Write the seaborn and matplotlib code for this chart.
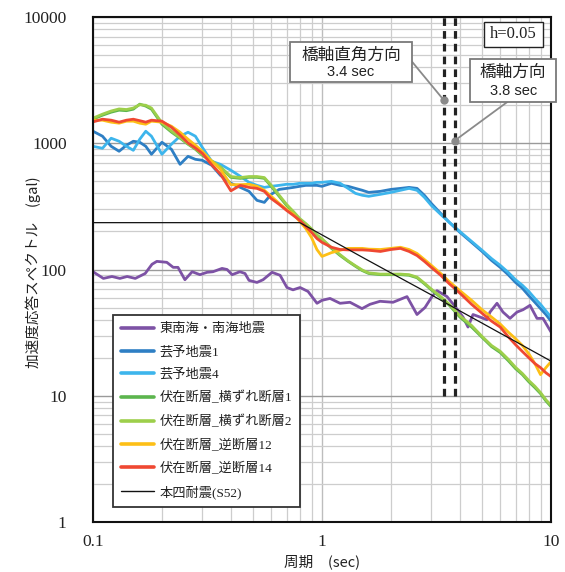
import matplotlib
matplotlib.use("Agg")
import matplotlib.pyplot as plt
import numpy as np
import pandas as pd
import seaborn as sns
from matplotlib.patches import Rectangle
from matplotlib.lines import Line2D
from matplotlib.ticker import LogLocator, FixedLocator, FixedFormatter, NullFormatter

sns.set_style("white")
plt.rcParams['font.family'] = ['Noto Sans CJK JP', 'DejaVu Sans']

# ---- periods (sec) shared by the recorded-wave spectra ----
periods = [0.10, 0.11, 0.12, 0.13, 0.14, 0.15, 0.16, 0.17, 0.18, 0.20,
           0.22, 0.24, 0.26, 0.28, 0.30, 0.33, 0.36, 0.40, 0.44, 0.48,
           0.52, 0.56, 0.60, 0.65, 0.70, 0.75, 0.80, 0.85, 0.90, 0.95,
           1.0, 1.1, 1.2, 1.3, 1.4, 1.5, 1.6, 1.8, 2.0, 2.2,
           2.4, 2.6, 2.8, 3.0, 3.3, 3.6, 4.0, 4.5, 5.0, 5.5,
           6.0, 6.5, 7.0, 7.5, 8.0, 8.5, 9.0, 9.5, 10.0]

# ---- acceleration response spectra (gal), h = 0.05 ----
geiyo1 = [1245, 1137, 946, 864, 964, 1037, 1018, 946, 818, 1018,
          896, 681, 788, 746, 733, 669, 557, 482, 447, 416,
          353, 340, 394, 431, 439, 447, 456, 464, 464, 464,
          456, 482, 464, 456, 439, 424, 408, 416, 431, 439,
          447, 439, 387, 334, 278, 236, 197, 164, 139, 118,
          104, 91, 79, 71, 62, 55, 49, 44, 39]
geiyo4 = [946, 912, 1096, 1037, 946, 879, 1076, 1245, 1137, 818,
          982, 1137, 1222, 1137, 929, 719, 681, 611, 547, 490,
          464, 447, 456, 464, 473, 473, 482, 482, 482, 490,
          490, 499, 482, 439, 401, 387, 380, 394, 408, 424,
          439, 424, 373, 322, 273, 236, 200, 167, 142, 122,
          108, 95, 83, 75, 67, 59, 53, 47, 42]
strike1 = [1550, 1668, 1762, 1828, 1811, 1862, 2040, 1968, 1862, 1415,
           1226, 1096, 982, 896, 803, 719, 645, 537, 527, 537,
           537, 527, 456, 380, 322, 283, 249, 228, 208, 186,
           173, 147, 129, 116, 106, 98, 93, 91, 91, 91,
           90, 86, 77, 69, 60, 52, 42, 35, 29, 24.5,
           22, 19, 16.4, 14.7, 12.9, 11.6, 10.4, 9.1, 8.2]
strike2 = [1580, 1700, 1800, 1870, 1850, 1900, 2020, 2000, 1900, 1450,
           1250, 1110, 990, 905, 815, 725, 650, 545, 535, 545,
           545, 535, 465, 388, 328, 288, 253, 231, 210, 188,
           175, 149, 131, 117, 107, 99, 94, 92, 92, 92,
           91, 87, 78, 70, 61, 53, 43, 36, 29.5, 25,
           22.5, 19.5, 16.8, 15, 13.2, 11.9, 10.6, 9.3, 8.4]
reverse12 = [1523, 1523, 1469, 1442, 1496, 1496, 1442, 1415, 1496, 1469,
             1364, 1222, 1076, 964, 864, 719, 622, 470, 470, 473,
             456, 424, 380, 334, 299, 274, 240, 211, 179, 144,
             127, 136, 142, 147, 147, 147, 145, 144, 147, 150,
             144, 134, 120, 108, 93, 80, 68, 57, 48, 42,
             37, 32, 28.3, 25, 21.5, 18, 14.7, 16.7, 18.6]
reverse14 = [1476, 1550, 1523, 1469, 1523, 1550, 1509, 1469, 1523, 1496,
             1340, 1161, 1005, 916, 833, 674, 571, 420, 464, 447,
             439, 416, 365, 328, 294, 268, 245, 219, 197, 176,
             164, 150, 144, 143, 143, 143, 142, 139, 144, 147,
             139, 129, 116, 104, 90, 77, 65, 53, 45, 39,
             35, 29.4, 25.4, 22.4, 20, 18, 16.7, 15.2, 14.2]

# Tonankai-Nankai earthquake (own period sampling)
periods_nankai = [0.100, 0.111, 0.121, 0.131, 0.141, 0.153, 0.169, 0.181, 0.190, 0.210,
                  0.224, 0.235, 0.252, 0.271, 0.293, 0.315, 0.334, 0.366, 0.385, 0.405,
                  0.438, 0.461, 0.480, 0.520, 0.553, 0.605, 0.656, 0.703, 0.747, 0.802,
                  0.869, 0.951, 1.00, 1.084, 1.199, 1.325, 1.495, 1.620, 1.792, 2.042,
                  2.351, 2.599, 2.817, 3.022, 3.178, 3.515, 3.809, 4.128, 4.341, 4.565,
                  4.898, 5.254, 5.415, 5.810, 6.171, 6.622, 7.105, 7.546, 8.095, 8.686,
                  9.226, 10.0]
nankai = [96, 85, 88, 85, 88, 85, 93, 110, 116, 114,
          104, 104, 83, 96, 91, 95, 96, 102, 100, 91,
          96, 93, 82, 79, 83, 95, 90, 72, 69, 72,
          67, 54, 57, 59, 54, 55, 49, 53, 56, 55,
          61, 44, 50, 61, 68, 61, 51, 42, 35, 44,
          42, 40, 46, 54, 46, 41, 46, 48, 52, 41,
          41, 32]

# Honshu-Shikoku bridge seismic design spectrum (S52)
periods_s52 = [0.1, 0.8, 1.0, 1.5, 2.0, 3.0, 4.0, 5.0, 6.0, 7.0, 8.0, 9.0, 10.0]
honshi_s52 = [235, 235, 188, 125, 94, 63, 47, 37.6, 31.3, 26.9, 23.5, 20.9, 18.8]

labels = ["東南海・南海地震", "芸予地震1", "芸予地震4",
          "伏在断層_横ずれ断層1", "伏在断層_横ずれ断層2",
          "伏在断層_逆断層12", "伏在断層_逆断層14", "本四耐震(S52)"]
colors = ["#7d52a5", "#2e7fc4", "#3db5ec", "#5cb54e", "#9dcf4b",
          "#fdbf16", "#ef4832", "#111111"]

wave_data = [(periods_nankai, nankai), (periods, geiyo1), (periods, geiyo4),
             (periods, strike1), (periods, strike2), (periods, reverse12),
             (periods, reverse14)]
df = pd.concat([pd.DataFrame({"period": T, "accel": S, "wave": name})
                for name, (T, S) in zip(labels[:7], wave_data)], ignore_index=True)
df_s52 = pd.DataFrame({"period": periods_s52, "accel": honshi_s52, "wave": labels[7]})

fig = plt.figure(figsize=(5.65, 5.72), dpi=100)
ax = fig.add_axes([93 / 565, 1 - 522 / 572, 458 / 565, 505 / 572])

sns.lineplot(data=df, x="period", y="accel", hue="wave", hue_order=labels[:7],
             palette=colors[:7], sort=False, estimator=None, linewidth=2.0,
             legend=False, ax=ax)
sns.lineplot(data=df_s52, x="period", y="accel", color=colors[7], sort=False,
             estimator=None, linewidth=0.9, legend=False, ax=ax)

ax.set_xscale("log")
ax.set_yscale("log")
ax.set_xlim(0.1, 10)
ax.set_ylim(1, 10000)

# grid
ax.xaxis.set_minor_locator(LogLocator(base=10, subs=np.arange(2, 10)))
ax.yaxis.set_minor_locator(LogLocator(base=10, subs=np.arange(2, 10)))
ax.xaxis.set_minor_formatter(NullFormatter())
ax.yaxis.set_minor_formatter(NullFormatter())
ax.grid(which="minor", color="#cdcdcd", linewidth=0.9)
ax.grid(which="major", axis="x", color="#bdbdbd", linewidth=1.0)
ax.grid(which="major", axis="y", color="#9a9a9a", linewidth=1.0)
ax.set_axisbelow(True)

ax.xaxis.set_major_locator(FixedLocator([0.1, 1, 10]))
ax.xaxis.set_major_formatter(FixedFormatter(["0.1", "1", "10"]))
ax.yaxis.set_major_locator(FixedLocator([1, 10, 100, 1000, 10000]))
ax.yaxis.set_major_formatter(FixedFormatter(["1", "10", "100", "1000", "10000"]))
ax.tick_params(axis="both", which="both", length=0)
ax.tick_params(axis="x", pad=9)
ax.tick_params(axis="y", pad=19)
for t in ax.get_xticklabels() + ax.get_yticklabels():
    t.set_fontfamily("Liberation Serif")
    t.set_fontsize(12.5)
    t.set_color("#222222")

for sp in ax.spines.values():
    sp.set_color("#111111")
    sp.set_linewidth(1.5)

ax.set_xlabel("")
ax.set_ylabel("")
fig.text(33 / 565, 1 - 272 / 572, "加速度応答スペクトル　(gal)", rotation=90,
         ha="center", va="center", fontsize=10.5, color="#222222")
fig.text(322 / 565, 1 - 562 / 572, "周期　(sec)", ha="center", va="center",
         fontsize=10.5, color="#222222")

# natural periods of the bridge
ax.vlines([3.4, 3.8], 10, 10000, colors="#222222", linewidth=2.3,
          linestyles=(0, (2.4, 1.6)), zorder=4)


def period_box(x0, x1, y0, y1, title, sub, anchor, target):
    ax.add_patch(Rectangle((x0, y0), x1 - x0, y1 - y0, transform=ax.transAxes,
                           facecolor="white", edgecolor="#7a7a7a", linewidth=1.3,
                           zorder=6, clip_on=False))
    xc = (x0 + x1) / 2
    h = y1 - y0
    ax.text(xc, y0 + h * 0.68, title, transform=ax.transAxes, ha="center",
            va="center", fontsize=12, color="#222222", zorder=7)
    ax.text(xc, y0 + h * 0.25, sub, transform=ax.transAxes, ha="center",
            va="center", fontsize=10.5, family="Liberation Sans",
            color="#222222", zorder=7)
    ax.annotate("", xy=target, xycoords="data", xytext=anchor,
                textcoords="axes fraction",
                arrowprops=dict(arrowstyle="-", color="#8a8a8a", lw=1.3,
                                shrinkA=0, shrinkB=0), zorder=5)
    ax.plot([target[0]], [target[1]], marker="o", markersize=5,
            color="#8a8a8a", zorder=5)


period_box(0.430, 0.697, 0.871, 0.950, "橋軸直角方向", "3.4 sec",
           (0.697, 0.911), (3.4, 2200))
period_box(0.823, 1.012, 0.832, 0.917, "橋軸方向", "3.8 sec",
           (0.905, 0.832), (3.8, 1050))

# damping ratio note
ax.add_patch(Rectangle((0.854, 0.941), 0.129, 0.049, transform=ax.transAxes,
                       facecolor="white", edgecolor="#222222", linewidth=1.0,
                       zorder=6))
ax.text(0.9185, 0.9655, "h=0.05", transform=ax.transAxes, ha="center",
        va="center", fontsize=12, family="Liberation Serif", color="#222222",
        zorder=7)

handles = [Line2D([], [], color=c, linewidth=(2.6 if i < 7 else 1.0))
           for i, c in enumerate(colors)]
leg = ax.legend(handles, labels, loc="lower left",
                bbox_to_anchor=(0.0437, 0.0297), borderaxespad=0,
                prop={"family": ["Liberation Serif", "Noto Sans CJK JP"], "size": 9.5},
                frameon=True, fancybox=False, framealpha=1,
                handlelength=2.5, handletextpad=0.4, labelspacing=0.78,
                borderpad=0.6)
leg.get_frame().set_edgecolor("#333333")
leg.get_frame().set_linewidth(1.3)
for t in leg.get_texts():
    t.set_color("#222222")
leg.set_zorder(8)

fig.savefig("out.png", dpi=100)
